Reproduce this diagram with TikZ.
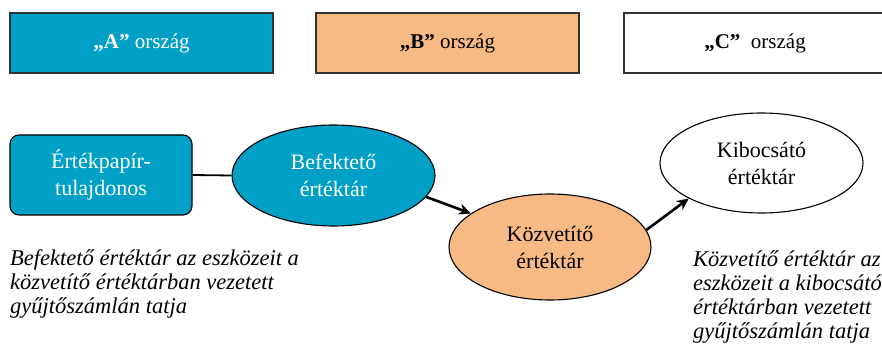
\documentclass[tikz,border=0pt]{standalone}
\usepackage{fontspec}
\setmainfont{Liberation Serif}
\usetikzlibrary{shapes.geometric,arrows.meta}
\definecolor{cblue}{RGB}{0,160,198}
\definecolor{corange}{RGB}{248,186,132}
\definecolor{cframe}{RGB}{50,50,50}
\begin{document}
\begin{tikzpicture}[x=1pt,y=-1pt,
  country/.style={draw=cframe,line width=1.2pt,minimum width=263pt,minimum height=60pt,font=\fontsize{21}{25}\selectfont},
  oval/.style={ellipse,draw=black,line width=1.1pt,inner sep=0pt,align=center,font=\fontsize{22}{27}\selectfont},
  arr/.style={line width=2.6pt,-{Stealth[length=12pt,width=11pt]}},
  note/.style={anchor=north west,align=left,inner sep=0pt,font=\fontsize{22.5}{24}\selectfont\itshape}]
\clip (0,0) rectangle (882,347);
\node[country,fill=cblue,text=white] (A) at (141.5,43) {\textbf{„A”} ország};
\node[country,fill=corange,text=black] (B) at (447.5,43) {\textbf{„B”} ország};
\node[country,fill=white,text=black,minimum width=262pt] (C) at (755,43) {\textbf{„C”}\ \ ország};
\node[draw=black,line width=1.1pt,rounded corners=9pt,fill=cblue,text=white,minimum width=182pt,minimum height=80pt,align=center,font=\fontsize{22}{27}\selectfont] (T) at (101,175) {Értékpapír-\\tulajdonos};
\node[oval,fill=cblue,text=white,minimum width=203pt,minimum height=101pt] (bef) at (333.5,175.5) {Befektető\\értéktár};
\node[oval,fill=corange,text=black,minimum width=202pt,minimum height=106pt] (koz) at (550,247) {Közvetítő\\értéktár};
\node[oval,fill=white,text=black,minimum width=203pt,minimum height=100pt] (kib) at (761.5,163) {Kibocsátó\\értéktár};
\draw[line width=1.8pt] (T.east) -- (bef.west);
\draw[arr] (bef.-13) -- (koz.157);
\draw[arr] (koz.10) -- (kib.206);
\node[note] (n1) at (10,249) {Befektető értéktár az eszközeit a\\közvetítő értéktárban vezetett\\gyűjtőszámlán tatja};
\node[note] (n2) at (693,250) {Közvetítő értéktár az\\eszközeit a kibocsátó\\értéktárban vezetett\\gyűjtőszámlán tatja};
\end{tikzpicture}
\end{document}
